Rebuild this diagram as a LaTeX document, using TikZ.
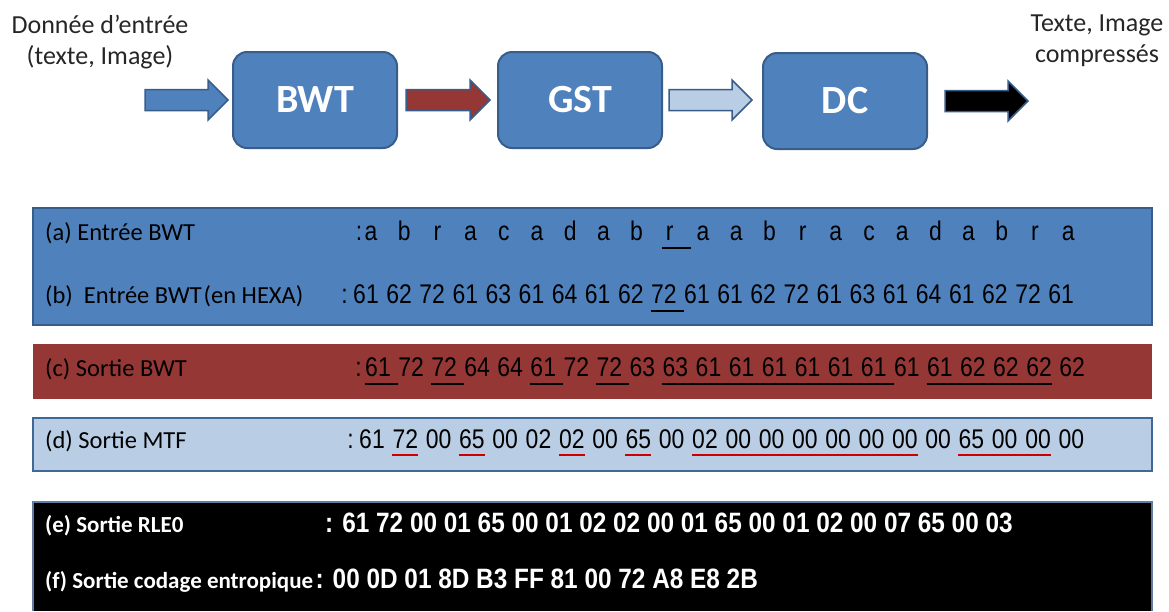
\documentclass[tikz,border=0pt]{standalone}
\usepackage{fontspec}
\setmainfont{Carlito}
\newfontfamily\arialn[FakeStretch=0.85]{Liberation Sans}
\newfontfamily\arialw[FakeStretch=0.87]{Liberation Sans}
\usepackage{tikz}
\usetikzlibrary{calc}
\definecolor{bleuoff}{HTML}{4F81BD}
\definecolor{bleufonce}{HTML}{385D8A}
\definecolor{rougef}{HTML}{953735}
\definecolor{bleuclair}{HTML}{B9CDE5}
\tikzset{
  blk_box/.style = {rectangle, rounded corners=14pt, fill=bleuoff, draw=bleufonce,
    line width=2pt, minimum width=164pt, minimum height=96pt, text=white,
    font=\bfseries\fontsize{40}{42}\selectfont},
  blk_arr/.style = {draw=bleufonce, line width=1.5pt},% fleche epaisse
  txt_top/.style = {align=center, inner sep=0pt, text=black!85,
    font=\fontsize{26}{31}\selectfont},
  row_lab/.style = {anchor=base west, inner sep=0pt,
    font=\fontsize{24.5}{28}\selectfont},
  row_val/.style = {anchor=base, inner sep=0pt,
    font=\arialn\fontsize{27}{30}\selectfont},
  row_bold/.style = {anchor=base west, inner sep=0pt, text=white,
    font=\bfseries\fontsize{23}{28}\selectfont},% lignes (e) et (f)
  u_noir/.style = {line width=1.3pt, black},
  u_rouge/.style = {line width=1.2pt, red!80!black}
}
% fleche pleine entre deux points
\newcommand{\blkarrow}[3]{%
  \path[blk_arr,#1] let \p1=(#2), \p2=(#3) in
    ({\x1},{\y1+10.5pt}) -- ({\x2-20pt},{\y1+10.5pt}) -- ({\x2-20pt},{\y1+20pt})
    -- ({\x2},{\y1}) -- ({\x2-20pt},{\y1-20pt}) -- ({\x2-20pt},{\y1-10.5pt})
    -- ({\x1},{\y1-10.5pt}) -- cycle;}

\begin{document}
\begin{tikzpicture}[x=1pt,y=-1pt]
\useasboundingbox (0,0) rectangle (1169,611);
% chaine BWT -> GST -> DC
\node[txt_top] (entree) at (100,42) {Donnée d’entrée\\(texte, Image)};
\node[txt_top] (sortie) at (1097,41) {Texte, Image\\compressés};
\node[blk_box] (bwt) at (315,100) {BWT};
\node[blk_box] (gst) at (580,100) {GST};
\node[blk_box] (dc) at (845,101) {DC};
\coordinate (src) at (145,100);
\coordinate (dst) at (1028,100);
\blkarrow{fill=bleuoff}{src}{$(bwt.west)+(-4pt,0)$}
\blkarrow{fill=rougef}{$(bwt.east)+(8pt,0)$}{$(gst.west)+(-7pt,0)$}
\blkarrow{fill=bleuclair}{$(gst.east)+(6pt,0)$}{$(dc.west)+(-10pt,0)$}
\blkarrow{fill=black}{$(dc.east)+(17pt,0)$}{dst}

% bandeaux
\draw[fill=bleuoff, draw=bleufonce, line width=1.5pt] (33,208) rectangle (1152,325);
\fill[rougef] (33,344) rectangle (1152,399);
\draw[fill=bleuclair, draw=bleuoff!80!black, line width=2.2pt] (33,418) rectangle (1152,471);
\fill[black] (33,502) rectangle (1152,611);
\draw[bleufonce!80, line width=2pt] (33,611) -- (33,502) -- (1152,502) -- (1152,611);

\node[row_lab] (la) at (45,240) {(a) Entrée BWT};
\node[row_lab] (lb) at (45,303) {(b)\ \ Entrée BWT\kern2pt(en HEXA)};
\node[row_lab] (lc) at (45,376) {(c) Sortie BWT};
\node[row_lab] (ld) at (45,448) {(d) Sortie MTF};
\node[row_bold] (le) at (45,532) {(e) Sortie RLE0};
\node[row_bold] (lf) at (45,588) {(f) Sortie codage entropique};

\foreach \v [count=\i from 0] in {a,b,r,a,c,a,d,a,b,r,a,a,b,r,a,c,a,d,a,b,r,a}
  \node[row_val] (a\i) at ({371+33.2*\i},240) {\v};
\foreach \v [count=\i from 0] in {61,62,72,61,63,61,64,61,62,72,61,61,62,72,61,63,61,64,61,62,72,61}
  \node[row_val] (b\i) at ({366+33.1*\i},303) {\v};
\foreach \v [count=\i from 0] in {61,72,72,64,64,61,72,72,63,63,61,61,61,61,61,61,61,61,62,62,62,62}
  \node[row_val] (c\i) at ({378+33.05*\i},376) {\v};
\foreach \v [count=\i from 0] in {61,72,00,65,00,02,02,00,65,00,02,00,00,00,00,00,00,00,65,00,00,00}
  \node[row_val] (d\i) at ({372+33.3*\i},448) {\v};
\node[row_val, anchor=base east] (pa) at ([xshift=-2pt]a0.base west) {:};
\node[row_val, anchor=base east] (pb) at ([xshift=-5pt]b0.base west) {:};
\node[row_val, anchor=base east] (pc) at ([xshift=-3pt]c0.base west) {:};
\node[row_val, anchor=base east] (pd) at ([xshift=-5pt]d0.base west) {:};
\node[row_bold, font=\arialw\bfseries\fontsize{28}{30}\selectfont] (ve) at (325,532)
  {: 61 72 00 01 65 00 01 02 02 00 01 65 00 01 02 00 07 65 00 03};
\node[row_bold, font=\arialw\bfseries\fontsize{28}{30}\selectfont] (vf)
  at ([xshift=2pt]lf.base east) {: 00 0D 01 8D B3 FF 81 00 72 A8 E8 2B};

% soulignements
\draw[u_noir] ([shift={(-4pt,-8pt)}]a9.base west) -- ([shift={(-5pt,-8pt)}]a10.base west);
\draw[u_noir] ([yshift=-8pt]b9.base west) -- ([yshift=-8pt]b10.base west);
\draw[u_noir] ([yshift=-8pt]c0.base west) -- ([yshift=-8pt]c1.base west);
\draw[u_noir] ([yshift=-8pt]c2.base west) -- ([yshift=-8pt]c3.base west);
\draw[u_noir] ([yshift=-8pt]c5.base west) -- ([yshift=-8pt]c6.base west);
\draw[u_noir] ([yshift=-8pt]c7.base west) -- ([yshift=-8pt]c8.base west);
\draw[u_noir] ([yshift=-8pt]c9.base west) -- ([yshift=-8pt]c16.base west);
\draw[u_noir] ([yshift=-8pt]c17.base west) -- ([yshift=-8pt]c20.base east);
\draw[u_rouge] ([yshift=-7pt]d1.base west) -- ([yshift=-7pt]d1.base east);
\draw[u_rouge] ([yshift=-7pt]d3.base west) -- ([yshift=-7pt]d3.base east);
\draw[u_rouge] ([yshift=-7pt]d6.base west) -- ([yshift=-7pt]d6.base east);
\draw[u_rouge] ([yshift=-7pt]d8.base west) -- ([yshift=-7pt]d8.base east);
\draw[u_rouge] ([yshift=-7pt]d10.base west) -- ([yshift=-7pt]d16.base east);
\draw[u_rouge] ([yshift=-7pt]d18.base west) -- ([yshift=-7pt]d20.base east);
\end{tikzpicture}
\end{document}
